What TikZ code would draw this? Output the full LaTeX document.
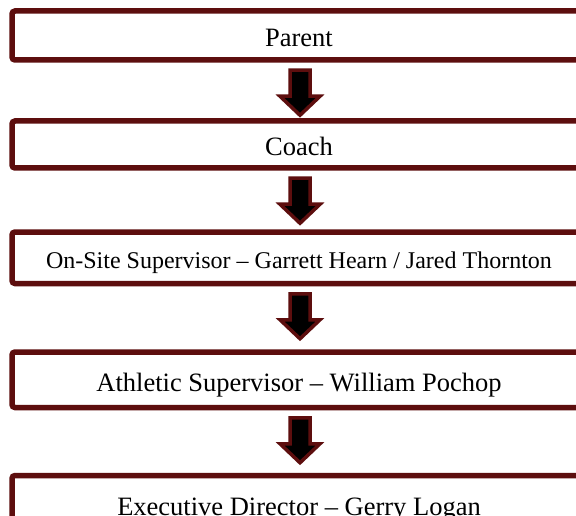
\documentclass[tikz,border=0pt]{standalone}
\usepackage{fontspec}
\setmainfont{Liberation Serif}
\usetikzlibrary{calc}
\definecolor{maroon}{RGB}{93,14,14}
\tikzset{
  box/.style={draw=maroon, line width=5.5pt, rounded corners=3pt, minimum width=574pt,
    inner sep=0pt, fill=white, font=\fontsize{26.5}{30}\selectfont,
    text height=22.5pt, text depth=0pt},
  smalltext/.style={font=\fontsize{24}{28}\selectfont, text height=20.5pt},
  blockarrow/.style={draw=maroon, fill=black, line width=3.5pt, miter limit=10},
}
\newcommand\blockarr[1]{%
  \draw[blockarrow] ($(#1.south)+(1,7.5)$) ++(-10,0) -- ++(20,0) -- ++(0,26)
    -- ++(10,0) -- ++(-20,19) -- ++(-20,-19) -- ++(10,0) -- cycle;}
\begin{document}
\begin{tikzpicture}[x=1pt,y=-1pt]
  \path[use as bounding box, fill=white] (0,0) rectangle (576,516);
  \clip (0,0) rectangle (576,516);
  \node[box, minimum height=49pt] (b1) at (299,35.5) {Parent};
  \node[box, minimum height=47pt] (b2) at (299,144.5) {Coach};
  \node[box, smalltext, minimum height=51.5pt] (b3) at (299,257.75) {On-Site Supervisor – Garrett Hearn / Jared Thornton};
  \node[box, minimum height=55.5pt] (b4) at (299,379.75) {Athletic Supervisor – William Pochop};
  \node[box, minimum height=58pt] (b5) at (299,504.5) {Executive Director – Gerry Logan};
  \blockarr{b1}
  \blockarr{b2}
  \blockarr{b3}
  \blockarr{b4}
\end{tikzpicture}
\end{document}
